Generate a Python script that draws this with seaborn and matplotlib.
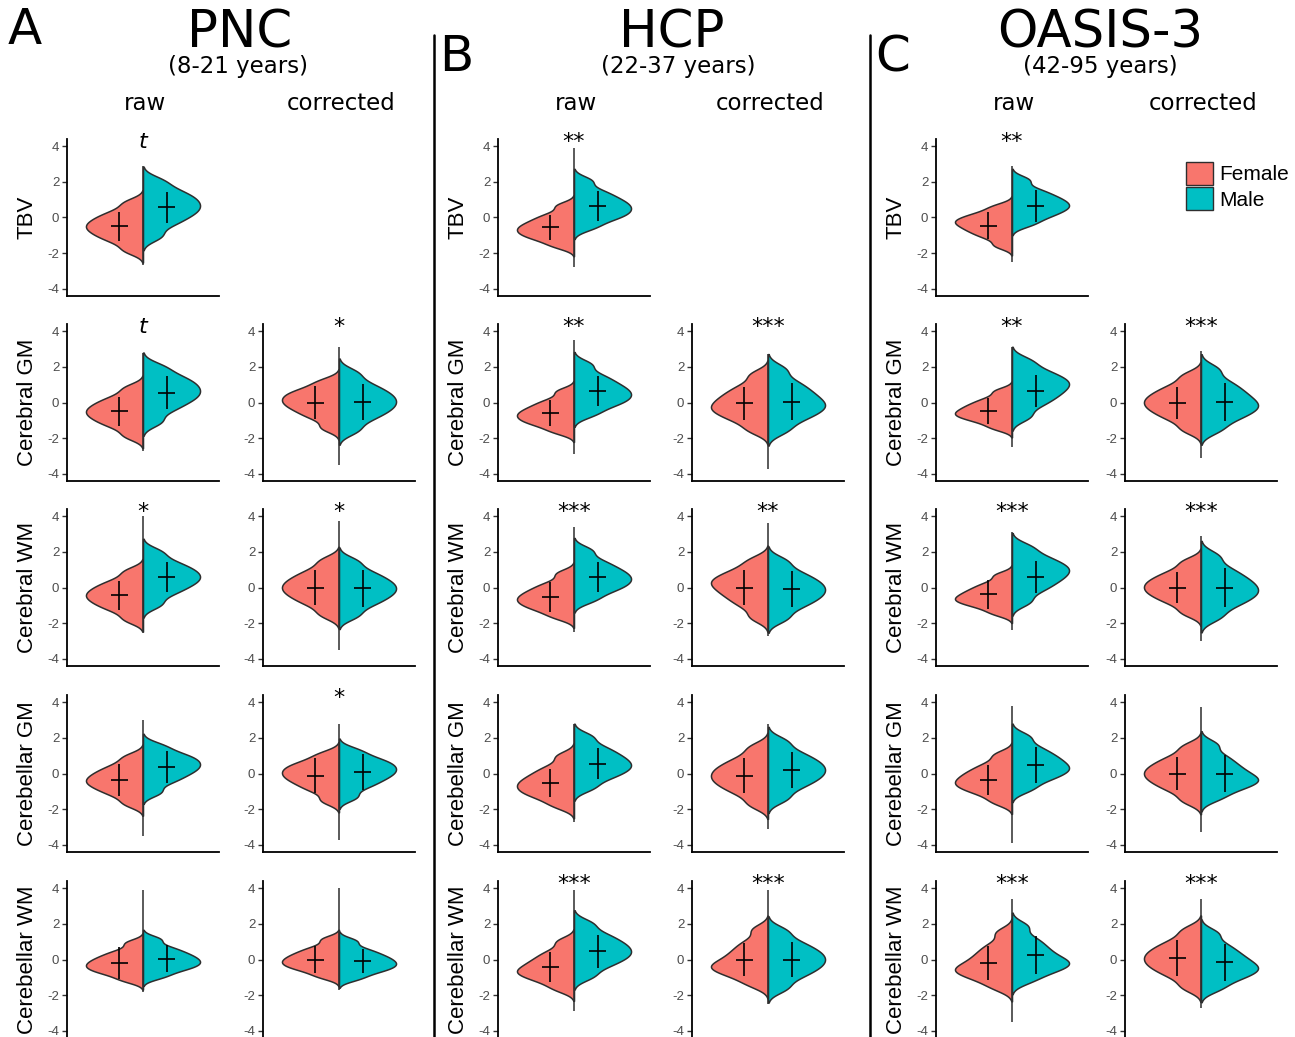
import numpy as np
import pandas as pd
import matplotlib
matplotlib.use('Agg')
import matplotlib.pyplot as plt
import seaborn as sns
from matplotlib.patches import Patch
from matplotlib.lines import Line2D

# ---- data (z-scores) ----
measures = ['TBV', 'Cerebral GM', 'Cerebral WM', 'Cerebellar GM', 'Cerebellar WM']
studies = ['PNC', 'HCP', 'OASIS-3']
age_ranges = ['(8-21 years)', '(22-37 years)', '(42-95 years)']
panel_letters = ['A', 'B', 'C']

# representative sample values per half violin (female / male)
pnc_raw_f = [[-1.85, -1.38, -1.10, -0.88, -0.68, -0.50, -0.32, -0.12, 0.10, 0.38, 0.85],
             [-1.88, -1.40, -1.12, -0.90, -0.70, -0.52, -0.34, -0.14, 0.08, 0.36, 0.83],
             [-1.80, -1.32, -1.04, -0.82, -0.62, -0.44, -0.26, -0.06, 0.16, 0.44, 0.92],
             [-1.70, -1.24, -0.96, -0.74, -0.55, -0.38, -0.20, 0.00, 0.22, 0.50, 0.95],
             [-1.16, -0.85, -0.66, -0.51, -0.37, -0.23, -0.08, 0.08, 0.27, 0.51, 0.94]]
pnc_raw_m = [[-1.05, -0.45, -0.10, 0.17, 0.40, 0.61, 0.83, 1.05, 1.29, 1.59, 2.07],
             [-1.08, -0.48, -0.12, 0.15, 0.38, 0.59, 0.81, 1.03, 1.27, 1.56, 2.02],
             [-0.95, -0.40, -0.08, 0.17, 0.38, 0.57, 0.77, 0.97, 1.20, 1.50, 2.00],
             [-1.05, -0.52, -0.22, 0.02, 0.22, 0.40, 0.58, 0.76, 0.95, 1.18, 1.57],
             [-0.96, -0.65, -0.46, -0.31, -0.17, -0.03, 0.12, 0.28, 0.47, 0.71, 1.14]]
pnc_cor_f = [None,
             [-1.42, -0.89, -0.59, -0.35, -0.15, 0.03, 0.21, 0.39, 0.58, 0.81, 1.20],
             [-1.52, -0.99, -0.68, -0.42, -0.21, 0.00, 0.21, 0.42, 0.68, 0.99, 1.52],
             [-1.52, -0.99, -0.69, -0.45, -0.25, -0.07, 0.11, 0.29, 0.48, 0.71, 1.10],
             [-0.96, -0.65, -0.46, -0.31, -0.17, -0.03, 0.12, 0.28, 0.47, 0.71, 1.14]]
pnc_cor_m = [None,
             [-1.56, -1.00, -0.66, -0.40, -0.17, 0.05, 0.27, 0.50, 0.76, 1.10, 1.66],
             [-1.57, -1.04, -0.73, -0.47, -0.26, -0.05, 0.16, 0.37, 0.63, 0.94, 1.47],
             [-1.32, -0.79, -0.49, -0.25, -0.05, 0.13, 0.31, 0.49, 0.68, 0.91, 1.30],
             [-1.06, -0.75, -0.56, -0.41, -0.27, -0.13, 0.02, 0.18, 0.37, 0.61, 1.04]]

hcp_raw_f = [[-1.60, -1.27, -1.07, -0.90, -0.75, -0.59, -0.44, -0.26, -0.05, 0.21, 0.67],
             [-1.64, -1.31, -1.11, -0.94, -0.79, -0.63, -0.48, -0.30, -0.09, 0.17, 0.63],
             [-1.65, -1.30, -1.08, -0.90, -0.73, -0.57, -0.40, -0.21, 0.01, 0.29, 0.79],
             [-1.81, -1.40, -1.15, -0.95, -0.76, -0.57, -0.38, -0.16, 0.10, 0.42, 0.98],
             [-1.65, -1.25, -1.01, -0.82, -0.66, -0.50, -0.29, -0.08, 0.18, 0.49, 1.02]]
hcp_raw_m = [[-0.55, -0.16, 0.07, 0.26, 0.44, 0.62, 0.80, 1.00, 1.24, 1.54, 2.07],
             [-0.66, -0.25, 0.00, 0.20, 0.39, 0.58, 0.77, 0.99, 1.25, 1.57, 2.13],
             [-0.70, -0.28, -0.02, 0.19, 0.38, 0.57, 0.76, 0.97, 1.22, 1.54, 2.08],
             [-0.80, -0.33, -0.05, 0.17, 0.37, 0.55, 0.76, 0.97, 1.23, 1.54, 2.07],
             [-0.94, -0.44, -0.14, 0.10, 0.30, 0.50, 0.71, 0.92, 1.18, 1.49, 2.02]]
hcp_cor_f = [None,
             [-1.56, -1.06, -0.76, -0.52, -0.32, -0.12, 0.11, 0.35, 0.63, 0.98, 1.57],
             [-1.67, -1.06, -0.69, -0.39, -0.14, 0.10, 0.30, 0.50, 0.74, 1.04, 1.54],
             [-1.74, -1.18, -0.84, -0.58, -0.35, -0.13, 0.09, 0.32, 0.58, 0.92, 1.48],
             [-1.40, -0.97, -0.72, -0.52, -0.35, -0.18, 0.07, 0.34, 0.65, 1.03, 1.68]]
hcp_cor_m = [None,
             [-1.56, -1.01, -0.69, -0.43, -0.21, 0.00, 0.25, 0.52, 0.83, 1.21, 1.86],
             [-1.73, -1.17, -0.83, -0.57, -0.34, -0.12, 0.10, 0.33, 0.59, 0.93, 1.49],
             [-1.41, -0.85, -0.51, -0.25, -0.02, 0.20, 0.42, 0.65, 0.91, 1.25, 1.81],
             [-1.61, -1.05, -0.71, -0.45, -0.22, 0.00, 0.22, 0.45, 0.71, 1.05, 1.61]]

oas_raw_f = [[-1.57, -1.14, -0.89, -0.69, -0.52, -0.35, -0.22, -0.08, 0.09, 0.29, 0.63],
             [-1.43, -1.11, -0.91, -0.76, -0.63, -0.50, -0.34, -0.18, 0.01, 0.25, 0.65],
             [-1.45, -1.12, -0.92, -0.77, -0.64, -0.50, -0.34, -0.17, 0.03, 0.28, 0.70],
             [-1.60, -1.17, -0.92, -0.72, -0.55, -0.38, -0.18, 0.02, 0.26, 0.56, 1.06],
             [-1.57, -1.14, -0.89, -0.69, -0.52, -0.35, -0.10, 0.17, 0.48, 0.86, 1.51]]
oas_raw_m = [[-0.37, -0.01, 0.22, 0.42, 0.58, 0.74, 0.91, 1.09, 1.31, 1.59, 2.11],
             [-0.79, -0.20, 0.15, 0.43, 0.67, 0.90, 1.10, 1.30, 1.54, 1.84, 2.34],
             [-0.80, -0.22, 0.12, 0.40, 0.63, 0.85, 1.05, 1.25, 1.49, 1.79, 2.28],
             [-0.87, -0.41, -0.14, 0.08, 0.27, 0.45, 0.67, 0.90, 1.16, 1.50, 2.06],
             [-1.18, -0.77, -0.53, -0.33, -0.16, 0.00, 0.25, 0.52, 0.83, 1.21, 1.86]]
oas_cor_f = [None,
             [-1.52, -0.99, -0.68, -0.42, -0.21, 0.00, 0.21, 0.42, 0.68, 0.99, 1.52],
             [-1.42, -0.92, -0.62, -0.38, -0.18, 0.02, 0.22, 0.42, 0.66, 0.96, 1.46],
             [-1.52, -0.99, -0.68, -0.42, -0.21, 0.00, 0.21, 0.42, 0.68, 0.99, 1.52],
             [-1.56, -1.00, -0.66, -0.40, -0.17, 0.05, 0.27, 0.50, 0.76, 1.10, 1.66]]
oas_cor_m = [None,
             [-1.52, -0.99, -0.68, -0.42, -0.21, 0.00, 0.25, 0.52, 0.83, 1.21, 1.86],
             [-1.66, -1.10, -0.76, -0.50, -0.27, -0.05, 0.19, 0.44, 0.74, 1.12, 1.76],
             [-1.37, -0.94, -0.69, -0.49, -0.32, -0.15, 0.09, 0.34, 0.64, 1.01, 1.62],
             [-1.62, -1.16, -0.89, -0.67, -0.48, -0.30, -0.06, 0.19, 0.49, 0.86, 1.47]]

# mean and sd crosses: (female mean, female sd, male mean, male sd)
pnc_raw_cross = [(-0.50, 0.82, 0.58, 0.87), (-0.50, 0.82, 0.56, 0.90), (-0.43, 0.82, 0.60, 0.85),
                 (-0.36, 0.88, 0.36, 0.92), (-0.19, 0.90, 0.04, 0.76)]
pnc_cor_cross = [None, (0.00, 0.93, 0.03, 0.99), (0.00, 0.99, -0.05, 1.02),
                 (-0.13, 0.98, 0.10, 1.02), (0.00, 0.73, -0.10, 0.68)]
hcp_raw_cross = [(-0.56, 0.72, 0.65, 0.83), (-0.60, 0.73, 0.62, 0.84), (-0.52, 0.85, 0.60, 0.85),
                 (-0.54, 0.77, 0.56, 0.86), (-0.43, 0.83, 0.45, 0.95)]
hcp_cor_cross = [None, (-0.05, 0.93, 0.05, 1.02), (0.00, 0.99, -0.10, 1.02),
                 (-0.13, 0.98, 0.20, 1.03), (0.00, 0.93, 0.00, 1.00)]
oas_raw_cross = [(-0.45, 0.75, 0.65, 0.90), (-0.47, 0.75, 0.62, 0.90), (-0.38, 0.80, 0.60, 0.90),
                 (-0.36, 0.82, 0.49, 1.01), (-0.19, 0.94, 0.23, 1.07)]
oas_cor_cross = [None, (-0.04, 0.90, 0.04, 1.08), (0.00, 0.88, 0.00, 1.10),
                 (0.00, 0.91, 0.00, 1.06), (0.09, 1.00, -0.15, 1.03)]

# full range (min, max) of each split violin
pnc_raw_range = [(-2.65, 2.9), (-2.7, 2.8), (-2.5, 4.0), (-3.5, 3.0), (-1.8, 3.9)]
pnc_cor_range = [None, (-3.5, 3.1), (-3.5, 3.7), (-3.7, 2.8), (-1.7, 4.0)]
hcp_raw_range = [(-2.8, 3.9), (-2.9, 3.5), (-2.5, 3.4), (-2.7, 2.8), (-2.9, 3.9)]
hcp_cor_range = [None, (-3.7, 2.7), (-2.7, 3.6), (-3.1, 2.8), (-2.5, 3.9)]
oas_raw_range = [(-2.5, 2.9), (-2.5, 3.1), (-2.4, 3.1), (-3.9, 3.8), (-3.5, 3.4)]
oas_cor_range = [None, (-3.1, 2.9), (-3.0, 2.9), (-3.3, 3.7), (-2.7, 3.4)]

# significance of the sex difference
pnc_raw_sig = ['t', 't', '*', '', '']
pnc_cor_sig = ['', '*', '*', '*', '']
hcp_raw_sig = ['**', '**', '***', '', '***']
hcp_cor_sig = ['', '***', '**', '', '***']
oas_raw_sig = ['**', '**', '***', '', '***']
oas_cor_sig = ['', '***', '***', '', '***']

# ---- style ----
sns.set_style('white')
plt.rcParams['font.family'] = ['DejaVu Sans']
plt.rcParams['axes.unicode_minus'] = False
plt.rcParams['text.color'] = 'black'
plt.rcParams['axes.labelcolor'] = 'black'
palette = {'Female': '#F8766D', 'Male': '#00BFC4'}
edge = '#2E2E2E'
W, H = 1295, 1037

fig = plt.figure(figsize=(12.95, 10.37), dpi=100)

col_left = [67, 263, 498, 692, 936, 1125]
row_top = [139, 324, 509, 695, 881]
ax_w, ax_h = 152, 157

panels = [
    (pnc_raw_f, pnc_raw_m, pnc_raw_cross, pnc_raw_range, pnc_raw_sig),
    (pnc_cor_f, pnc_cor_m, pnc_cor_cross, pnc_cor_range, pnc_cor_sig),
    (hcp_raw_f, hcp_raw_m, hcp_raw_cross, hcp_raw_range, hcp_raw_sig),
    (hcp_cor_f, hcp_cor_m, hcp_cor_cross, hcp_cor_range, hcp_cor_sig),
    (oas_raw_f, oas_raw_m, oas_raw_cross, oas_raw_range, oas_raw_sig),
    (oas_cor_f, oas_cor_m, oas_cor_cross, oas_cor_range, oas_cor_sig),
]

for c, (fem_list, mal_list, cross_list, range_list, sig_list) in enumerate(panels):
    for r, measure in enumerate(measures):
        if fem_list[r] is None:
            continue
        ax = fig.add_axes([col_left[c] / W, 1 - (row_top[r] + ax_h) / H, ax_w / W, ax_h / H])
        fem, mal = fem_list[r], mal_list[r]
        df = pd.DataFrame({'value': fem + mal,
                           'sex': ['Female'] * len(fem) + ['Male'] * len(mal)})
        df['grp'] = 'g'
        sns.violinplot(data=df, x='grp', y='value', hue='sex', hue_order=['Female', 'Male'],
                       split=True, inner=None, palette=palette, saturation=1,
                       linecolor=edge, linewidth=1.1, cut=2.5, bw_adjust=0.55,
                       legend=False, ax=ax)
        lo, hi = range_list[r]
        ax.vlines(0, lo, hi, color=edge, lw=1.1, zorder=3)
        mf, sf, mm, sm = cross_list[r]
        ax.errorbar([-0.165, 0.165], [mf, mm], yerr=[sf, sm], xerr=0.058, fmt='none',
                    ecolor='black', elinewidth=1.2, capsize=0, zorder=4)
        sig = sig_list[r]
        if sig:
            ax.text(0, 4.25, sig, ha='center', va='center', fontsize=16,
                    style='italic' if sig == 't' else 'normal', clip_on=False)

        ax.set_xlim(-0.533, 0.533)
        ax.set_ylim(-4.4, 4.4)
        ax.set_yticks([-4, -2, 0, 2, 4])
        ax.set_xticks([])
        ax.set_xlabel('')
        for s in ['top', 'right']:
            ax.spines[s].set_visible(False)
        for s in ['left', 'bottom']:
            ax.spines[s].set_linewidth(1.3)
            ax.spines[s].set_color('black')
        ax.tick_params(axis='y', length=3.5, width=1, color='#333333', labelsize=9.5,
                       labelcolor='#4D4D4D', pad=2, left=True)
        for lab in ax.get_yticklabels():
            lab.set_fontfamily('Liberation Sans')
        if c % 2 == 0:
            ax.set_ylabel(measure, fontsize=16, fontfamily='Liberation Sans', labelpad=7)
        else:
            ax.set_ylabel('')

# ---- headers ----
title_x = [240, 672, 1100]
sub_x = [238, 678, 1100]
for i in range(3):
    fig.text(title_x[i] / W, 1 - 33 / H, studies[i], fontsize=37, ha='center', va='center')
    fig.text(sub_x[i] / W, 1 - 67 / H, age_ranges[i], fontsize=16.5, ha='center', va='center')
    fig.text((col_left[2 * i] + ax_w / 2 + 2) / W, 1 - 104 / H, 'raw', fontsize=16.5,
             ha='center', va='center')
    fig.text((col_left[2 * i + 1] + ax_w / 2 + 2) / W, 1 - 104 / H, 'corrected', fontsize=16.5,
             ha='center', va='center')

letter_pos = [(25, 30), (456, 57), (893, 57)]
for letter, (lx, ly) in zip(panel_letters, letter_pos):
    fig.text(lx / W, 1 - ly / H, letter, fontsize=36, ha='center', va='center')

for sx in [434, 870]:
    fig.add_artist(Line2D([sx / W, sx / W], [1 - 35 / H, 0], color='black', lw=1.8))

handles = [Patch(facecolor=palette['Female'], edgecolor=edge, label='Female'),
           Patch(facecolor=palette['Male'], edgecolor=edge, label='Male')]
fig.legend(handles=handles, loc='upper left', bbox_to_anchor=(1186 / W, 1 - 162 / H),
           frameon=False, handlelength=1.3, handleheight=1.3, handletextpad=0.3,
           labelspacing=0.12, borderaxespad=0, borderpad=0,
           prop={'family': 'Liberation Sans', 'size': 15})

fig.savefig('out.png', dpi=100)
